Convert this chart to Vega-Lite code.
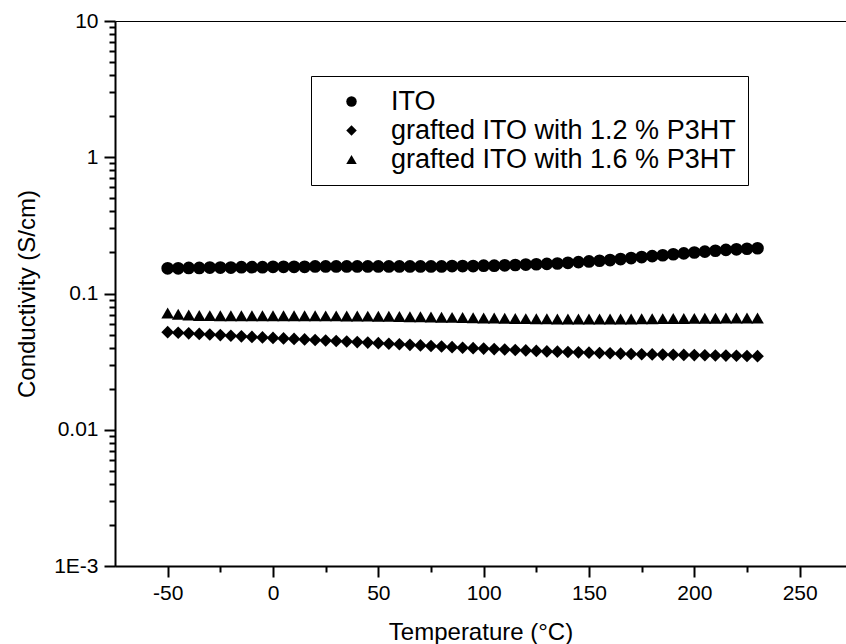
{
  "$schema": "https://vega.github.io/schema/vega-lite/v6.json",
  "autosize": "none",
  "padding": {"left": 115, "top": 21, "right": 0, "bottom": 78},
  "width": 731,
  "height": 545,
  "background": "white",
  "config": {
    "font": "Liberation Sans",
    "view": {"stroke": "black", "strokeWidth": 1},
    "axis": {
      "domainColor": "black", "domainWidth": 2, "tickColor": "black", "tickWidth": 2,
      "labelColor": "black", "titleColor": "black", "labelFont": "Liberation Sans", "titleFont": "Liberation Sans",
      "labelFontSize": 21, "titleFontSize": 24, "titleFontWeight": "normal", "grid": false
    }
  },
  "datasets": {
    "main": [
      {"T": -50, "s": "ITO", "v": 0.153}, {"T": -45, "s": "ITO", "v": 0.153}, {"T": -40, "s": "ITO", "v": 0.154}, {"T": -35, "s": "ITO", "v": 0.154}, {"T": -30, "s": "ITO", "v": 0.155}, {"T": -25, "s": "ITO", "v": 0.155}, {"T": -20, "s": "ITO", "v": 0.155}, {"T": -15, "s": "ITO", "v": 0.156}, {"T": -10, "s": "ITO", "v": 0.156}, {"T": -5, "s": "ITO", "v": 0.156}, {"T": 0, "s": "ITO", "v": 0.157}, {"T": 5, "s": "ITO", "v": 0.157}, {"T": 10, "s": "ITO", "v": 0.157}, {"T": 15, "s": "ITO", "v": 0.157}, {"T": 20, "s": "ITO", "v": 0.158}, {"T": 25, "s": "ITO", "v": 0.158}, {"T": 30, "s": "ITO", "v": 0.158}, {"T": 35, "s": "ITO", "v": 0.158}, {"T": 40, "s": "ITO", "v": 0.158}, {"T": 45, "s": "ITO", "v": 0.158}, {"T": 50, "s": "ITO", "v": 0.158}, {"T": 55, "s": "ITO", "v": 0.158}, {"T": 60, "s": "ITO", "v": 0.158}, {"T": 65, "s": "ITO", "v": 0.158}, {"T": 70, "s": "ITO", "v": 0.158}, {"T": 75, "s": "ITO", "v": 0.158}, {"T": 80, "s": "ITO", "v": 0.158}, {"T": 85, "s": "ITO", "v": 0.159}, {"T": 90, "s": "ITO", "v": 0.159}, {"T": 95, "s": "ITO", "v": 0.159}, {"T": 100, "s": "ITO", "v": 0.16}, {"T": 105, "s": "ITO", "v": 0.16}, {"T": 110, "s": "ITO", "v": 0.161}, {"T": 115, "s": "ITO", "v": 0.162}, {"T": 120, "s": "ITO", "v": 0.163}, {"T": 125, "s": "ITO", "v": 0.164}, {"T": 130, "s": "ITO", "v": 0.165}, {"T": 135, "s": "ITO", "v": 0.166}, {"T": 140, "s": "ITO", "v": 0.168}, {"T": 145, "s": "ITO", "v": 0.17}, {"T": 150, "s": "ITO", "v": 0.172}, {"T": 155, "s": "ITO", "v": 0.174}, {"T": 160, "s": "ITO", "v": 0.176}, {"T": 165, "s": "ITO", "v": 0.179}, {"T": 170, "s": "ITO", "v": 0.182}, {"T": 175, "s": "ITO", "v": 0.185}, {"T": 180, "s": "ITO", "v": 0.188}, {"T": 185, "s": "ITO", "v": 0.191}, {"T": 190, "s": "ITO", "v": 0.194}, {"T": 195, "s": "ITO", "v": 0.197}, {"T": 200, "s": "ITO", "v": 0.2}, {"T": 205, "s": "ITO", "v": 0.203}, {"T": 210, "s": "ITO", "v": 0.206}, {"T": 215, "s": "ITO", "v": 0.209}, {"T": 220, "s": "ITO", "v": 0.211}, {"T": 225, "s": "ITO", "v": 0.213}, {"T": 230, "s": "ITO", "v": 0.215},
      {"T": -50, "s": "grafted ITO with 1.2 % P3HT", "v": 0.052}, {"T": -45, "s": "grafted ITO with 1.2 % P3HT", "v": 0.0515}, {"T": -40, "s": "grafted ITO with 1.2 % P3HT", "v": 0.051}, {"T": -35, "s": "grafted ITO with 1.2 % P3HT", "v": 0.0505}, {"T": -30, "s": "grafted ITO with 1.2 % P3HT", "v": 0.05}, {"T": -25, "s": "grafted ITO with 1.2 % P3HT", "v": 0.0495}, {"T": -20, "s": "grafted ITO with 1.2 % P3HT", "v": 0.049}, {"T": -15, "s": "grafted ITO with 1.2 % P3HT", "v": 0.0485}, {"T": -10, "s": "grafted ITO with 1.2 % P3HT", "v": 0.048}, {"T": -5, "s": "grafted ITO with 1.2 % P3HT", "v": 0.0476}, {"T": 0, "s": "grafted ITO with 1.2 % P3HT", "v": 0.0472}, {"T": 5, "s": "grafted ITO with 1.2 % P3HT", "v": 0.0468}, {"T": 10, "s": "grafted ITO with 1.2 % P3HT", "v": 0.0464}, {"T": 15, "s": "grafted ITO with 1.2 % P3HT", "v": 0.046}, {"T": 20, "s": "grafted ITO with 1.2 % P3HT", "v": 0.0456}, {"T": 25, "s": "grafted ITO with 1.2 % P3HT", "v": 0.0452}, {"T": 30, "s": "grafted ITO with 1.2 % P3HT", "v": 0.0448}, {"T": 35, "s": "grafted ITO with 1.2 % P3HT", "v": 0.0444}, {"T": 40, "s": "grafted ITO with 1.2 % P3HT", "v": 0.044}, {"T": 45, "s": "grafted ITO with 1.2 % P3HT", "v": 0.0436}, {"T": 50, "s": "grafted ITO with 1.2 % P3HT", "v": 0.0432}, {"T": 55, "s": "grafted ITO with 1.2 % P3HT", "v": 0.0428}, {"T": 60, "s": "grafted ITO with 1.2 % P3HT", "v": 0.0424}, {"T": 65, "s": "grafted ITO with 1.2 % P3HT", "v": 0.042}, {"T": 70, "s": "grafted ITO with 1.2 % P3HT", "v": 0.0416}, {"T": 75, "s": "grafted ITO with 1.2 % P3HT", "v": 0.0412}, {"T": 80, "s": "grafted ITO with 1.2 % P3HT", "v": 0.0408}, {"T": 85, "s": "grafted ITO with 1.2 % P3HT", "v": 0.0404}, {"T": 90, "s": "grafted ITO with 1.2 % P3HT", "v": 0.04}, {"T": 95, "s": "grafted ITO with 1.2 % P3HT", "v": 0.0397}, {"T": 100, "s": "grafted ITO with 1.2 % P3HT", "v": 0.0394}, {"T": 105, "s": "grafted ITO with 1.2 % P3HT", "v": 0.0391}, {"T": 110, "s": "grafted ITO with 1.2 % P3HT", "v": 0.0388}, {"T": 115, "s": "grafted ITO with 1.2 % P3HT", "v": 0.0385}, {"T": 120, "s": "grafted ITO with 1.2 % P3HT", "v": 0.0382}, {"T": 125, "s": "grafted ITO with 1.2 % P3HT", "v": 0.0379}, {"T": 130, "s": "grafted ITO with 1.2 % P3HT", "v": 0.0376}, {"T": 135, "s": "grafted ITO with 1.2 % P3HT", "v": 0.0374}, {"T": 140, "s": "grafted ITO with 1.2 % P3HT", "v": 0.0372}, {"T": 145, "s": "grafted ITO with 1.2 % P3HT", "v": 0.037}, {"T": 150, "s": "grafted ITO with 1.2 % P3HT", "v": 0.0368}, {"T": 155, "s": "grafted ITO with 1.2 % P3HT", "v": 0.0366}, {"T": 160, "s": "grafted ITO with 1.2 % P3HT", "v": 0.0364}, {"T": 165, "s": "grafted ITO with 1.2 % P3HT", "v": 0.0362}, {"T": 170, "s": "grafted ITO with 1.2 % P3HT", "v": 0.036}, {"T": 175, "s": "grafted ITO with 1.2 % P3HT", "v": 0.0358}, {"T": 180, "s": "grafted ITO with 1.2 % P3HT", "v": 0.0357}, {"T": 185, "s": "grafted ITO with 1.2 % P3HT", "v": 0.0356}, {"T": 190, "s": "grafted ITO with 1.2 % P3HT", "v": 0.0355}, {"T": 195, "s": "grafted ITO with 1.2 % P3HT", "v": 0.0354}, {"T": 200, "s": "grafted ITO with 1.2 % P3HT", "v": 0.0353}, {"T": 205, "s": "grafted ITO with 1.2 % P3HT", "v": 0.0352}, {"T": 210, "s": "grafted ITO with 1.2 % P3HT", "v": 0.0351}, {"T": 215, "s": "grafted ITO with 1.2 % P3HT", "v": 0.035}, {"T": 220, "s": "grafted ITO with 1.2 % P3HT", "v": 0.0349}, {"T": 225, "s": "grafted ITO with 1.2 % P3HT", "v": 0.0348}, {"T": 230, "s": "grafted ITO with 1.2 % P3HT", "v": 0.0347},
      {"T": -50, "s": "grafted ITO with 1.6 % P3HT", "v": 0.072}, {"T": -45, "s": "grafted ITO with 1.6 % P3HT", "v": 0.0705}, {"T": -40, "s": "grafted ITO with 1.6 % P3HT", "v": 0.0695}, {"T": -35, "s": "grafted ITO with 1.6 % P3HT", "v": 0.069}, {"T": -30, "s": "grafted ITO with 1.6 % P3HT", "v": 0.0688}, {"T": -25, "s": "grafted ITO with 1.6 % P3HT", "v": 0.0687}, {"T": -20, "s": "grafted ITO with 1.6 % P3HT", "v": 0.0687}, {"T": -15, "s": "grafted ITO with 1.6 % P3HT", "v": 0.0687}, {"T": -10, "s": "grafted ITO with 1.6 % P3HT", "v": 0.0687}, {"T": -5, "s": "grafted ITO with 1.6 % P3HT", "v": 0.0687}, {"T": 0, "s": "grafted ITO with 1.6 % P3HT", "v": 0.0687}, {"T": 5, "s": "grafted ITO with 1.6 % P3HT", "v": 0.0687}, {"T": 10, "s": "grafted ITO with 1.6 % P3HT", "v": 0.0687}, {"T": 15, "s": "grafted ITO with 1.6 % P3HT", "v": 0.0686}, {"T": 20, "s": "grafted ITO with 1.6 % P3HT", "v": 0.0686}, {"T": 25, "s": "grafted ITO with 1.6 % P3HT", "v": 0.0685}, {"T": 30, "s": "grafted ITO with 1.6 % P3HT", "v": 0.0685}, {"T": 35, "s": "grafted ITO with 1.6 % P3HT", "v": 0.0684}, {"T": 40, "s": "grafted ITO with 1.6 % P3HT", "v": 0.0683}, {"T": 45, "s": "grafted ITO with 1.6 % P3HT", "v": 0.0682}, {"T": 50, "s": "grafted ITO with 1.6 % P3HT", "v": 0.0681}, {"T": 55, "s": "grafted ITO with 1.6 % P3HT", "v": 0.068}, {"T": 60, "s": "grafted ITO with 1.6 % P3HT", "v": 0.0678}, {"T": 65, "s": "grafted ITO with 1.6 % P3HT", "v": 0.0676}, {"T": 70, "s": "grafted ITO with 1.6 % P3HT", "v": 0.0674}, {"T": 75, "s": "grafted ITO with 1.6 % P3HT", "v": 0.0672}, {"T": 80, "s": "grafted ITO with 1.6 % P3HT", "v": 0.067}, {"T": 85, "s": "grafted ITO with 1.6 % P3HT", "v": 0.0668}, {"T": 90, "s": "grafted ITO with 1.6 % P3HT", "v": 0.0666}, {"T": 95, "s": "grafted ITO with 1.6 % P3HT", "v": 0.0664}, {"T": 100, "s": "grafted ITO with 1.6 % P3HT", "v": 0.0662}, {"T": 105, "s": "grafted ITO with 1.6 % P3HT", "v": 0.066}, {"T": 110, "s": "grafted ITO with 1.6 % P3HT", "v": 0.0658}, {"T": 115, "s": "grafted ITO with 1.6 % P3HT", "v": 0.0656}, {"T": 120, "s": "grafted ITO with 1.6 % P3HT", "v": 0.0654}, {"T": 125, "s": "grafted ITO with 1.6 % P3HT", "v": 0.0653}, {"T": 130, "s": "grafted ITO with 1.6 % P3HT", "v": 0.0652}, {"T": 135, "s": "grafted ITO with 1.6 % P3HT", "v": 0.0651}, {"T": 140, "s": "grafted ITO with 1.6 % P3HT", "v": 0.065}, {"T": 145, "s": "grafted ITO with 1.6 % P3HT", "v": 0.065}, {"T": 150, "s": "grafted ITO with 1.6 % P3HT", "v": 0.065}, {"T": 155, "s": "grafted ITO with 1.6 % P3HT", "v": 0.065}, {"T": 160, "s": "grafted ITO with 1.6 % P3HT", "v": 0.065}, {"T": 165, "s": "grafted ITO with 1.6 % P3HT", "v": 0.065}, {"T": 170, "s": "grafted ITO with 1.6 % P3HT", "v": 0.0651}, {"T": 175, "s": "grafted ITO with 1.6 % P3HT", "v": 0.0652}, {"T": 180, "s": "grafted ITO with 1.6 % P3HT", "v": 0.0653}, {"T": 185, "s": "grafted ITO with 1.6 % P3HT", "v": 0.0654}, {"T": 190, "s": "grafted ITO with 1.6 % P3HT", "v": 0.0655}, {"T": 195, "s": "grafted ITO with 1.6 % P3HT", "v": 0.0656}, {"T": 200, "s": "grafted ITO with 1.6 % P3HT", "v": 0.0657}, {"T": 205, "s": "grafted ITO with 1.6 % P3HT", "v": 0.0658}, {"T": 210, "s": "grafted ITO with 1.6 % P3HT", "v": 0.0659}, {"T": 215, "s": "grafted ITO with 1.6 % P3HT", "v": 0.066}, {"T": 220, "s": "grafted ITO with 1.6 % P3HT", "v": 0.066}, {"T": 225, "s": "grafted ITO with 1.6 % P3HT", "v": 0.0661}, {"T": 230, "s": "grafted ITO with 1.6 % P3HT", "v": 0.0661}
    ]
  },
  "data": {"name": "main"},
  "mark": {"type": "point", "filled": true, "opacity": 1, "size": 160, "color": "black"},
  "encoding": {
    "x": {"field": "T", "type": "quantitative",
          "scale": {"domain": [-75, 272], "nice": false, "zero": false},
          "axis": {"title": "Temperature (°C)", "values": [-50, -25, 0, 25, 50, 75, 100, 125, 150, 175, 200, 225, 250],
                   "tickSize": {"condition": {"test": "datum.value % 50 == 0", "value": 11}, "value": 6},
                   "labelPadding": 5, "titlePadding": 17, "labelFlush": false,
                   "labelExpr": "datum.value % 50 == 0 ? toString(datum.value) : ''"}},
    "y": {"field": "v", "type": "quantitative",
          "scale": {"type": "log", "domain": [0.001, 10], "nice": false},
          "axis": {"title": "Conductivity (S/cm)",
                   "values": [0.001, 0.002, 0.003, 0.004, 0.005, 0.006, 0.007, 0.008, 0.009, 0.01, 0.02, 0.03, 0.04, 0.05, 0.06, 0.07, 0.08, 0.09, 0.1, 0.2, 0.3, 0.4, 0.5, 0.6, 0.7, 0.8, 0.9, 1, 2, 3, 4, 5, 6, 7, 8, 9, 10],
                   "tickSize": {"condition": {"test": "indexof([0.001, 0.01, 0.1, 1, 10], datum.value) >= 0", "value": 11}, "value": 6},
                   "labelPadding": 6, "titlePadding": 14, "labelFlush": false, "labelOverlap": false,
                   "labelExpr": "datum.value == 0.001 ? '1E-3' : indexof([0.01, 0.1, 1, 10], datum.value) >= 0 ? toString(datum.value) : ''"}},
    "shape": {"field": "s", "type": "nominal",
              "scale": {"domain": ["ITO", "grafted ITO with 1.2 % P3HT", "grafted ITO with 1.6 % P3HT"], "range": ["circle", "diamond", "triangle-up"]},
              "legend": {"title": null, "orient": "none", "legendX": 196, "legendY": 55, "padding": 12, "strokeColor": "black", "fillColor": "white",
                         "labelFontSize": 27, "labelFont": "Liberation Sans", "labelColor": "black", "labelLimit": 600, "symbolSize": 110, "symbolFillColor": "black", "symbolStrokeColor": "black",
                         "symbolOffset": 15, "labelOffset": 26, "rowPadding": 1}}
  }
}
